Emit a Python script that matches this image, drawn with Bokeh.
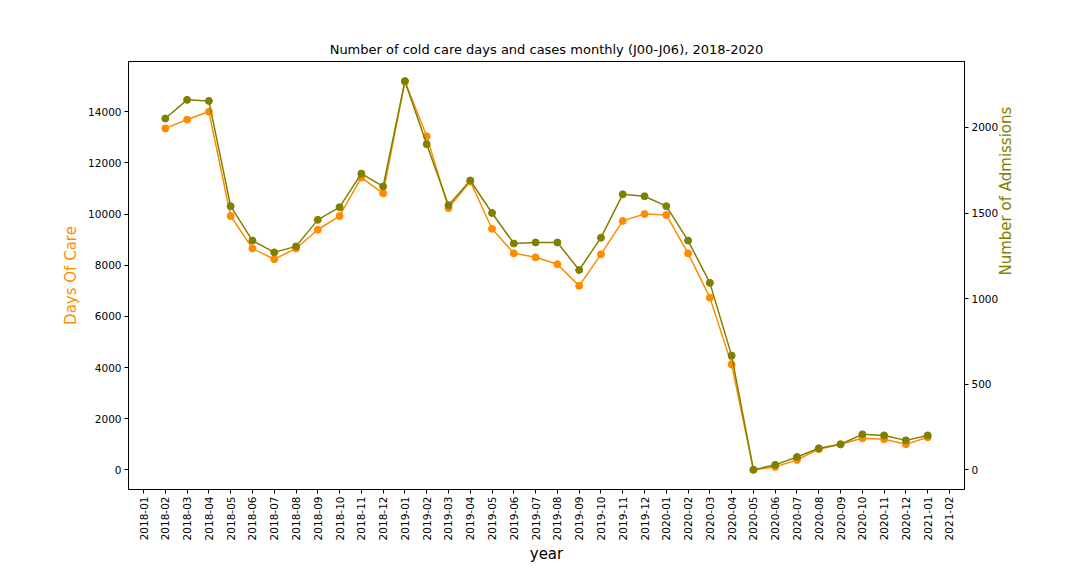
from bokeh.plotting import figure
from bokeh.models import Range1d, LinearAxis, FixedTicker
from bokeh.embed import file_html
from bokeh.resources import INLINE

months = [f"{y}-{m:02d}" for y in (2018, 2019, 2020, 2021) for m in range(1, 13)][:38]

days_of_care = [13346, 13692, 14000, 9923, 8654, 8231, 8654, 9385, 9923, 11423, 10808,
                15192, 13038, 10231, 11269, 9423, 8462, 8308, 8038, 7192, 8423, 9731, 10000,
                9962, 8462, 6731, 4115, 0, 115, 385, 808, 1000, 1231, 1192, 1000, 1269]
admissions = [2052, 2161, 2155, 1540, 1339, 1270, 1305, 1460, 1534, 1730, 1655,
              2270, 1902, 1546, 1690, 1500, 1322, 1328, 1328, 1167, 1356, 1609, 1598,
              1540, 1339, 1092, 667, 0, 29, 75, 126, 149, 207, 201, 172, 201]

xs = list(range(1, 1 + len(days_of_care)))

p = figure(width=1064, height=566, output_backend="svg", toolbar_location=None,
           x_range=Range1d(-0.69, 37.69), y_range=Range1d(-769, 15962),
           title="Number of cold care days and cases monthly (J00-J06), 2018-2020",
           min_border_left=128, min_border_right=100, min_border_top=61, min_border_bottom=64)
p.title.align = "center"
p.title.text_font_style = "normal"
p.title.text_font_size = "13px"
p.title.text_font = "DejaVu Sans"
p.title.text_color = "black"
p.xgrid.visible = False
p.ygrid.visible = False
p.outline_line_color = "black"

p.extra_y_ranges = {"adm": Range1d(-115, 2385)}

p.line(xs, days_of_care, color="darkorange", line_width=1.5)
p.scatter(xs, days_of_care, color="darkorange", size=7)
p.line(xs, admissions, color="olive", line_width=1.5, y_range_name="adm")
p.scatter(xs, admissions, color="olive", size=7, y_range_name="adm")

p.xaxis.ticker = FixedTicker(ticks=list(range(len(months))))
p.xaxis.major_label_overrides = {i: m for i, m in enumerate(months)}
p.xaxis.major_label_orientation = 1.5708
p.xaxis.axis_label = "year"
p.xaxis.axis_label_text_font_style = "normal"
p.xaxis.axis_label_text_font_size = "15px"
p.xaxis.axis_label_text_color = "black"
p.xaxis.axis_label_standoff = 2

p.yaxis.ticker = FixedTicker(ticks=list(range(0, 16000, 2000)))
p.yaxis.axis_label = "Days Of Care"
p.yaxis.axis_label_text_color = "darkorange"
p.yaxis.axis_label_text_font_style = "normal"
p.yaxis.axis_label_text_font_size = "15px"

right = LinearAxis(y_range_name="adm", ticker=FixedTicker(ticks=[0, 500, 1000, 1500, 2000]),
                   axis_label="Number of Admissions")
right.axis_label_text_color = "olive"
right.axis_label_text_font_style = "normal"
right.axis_label_text_font_size = "15px"
right.axis_label_orientation = 1.5708
p.add_layout(right, "right")

for ax in p.xaxis + p.yaxis + [right]:
    ax.major_label_text_font = "DejaVu Sans"
    ax.major_label_text_font_size = "10.5px"
    ax.major_label_text_color = "black"
    ax.major_label_standoff = 3
    ax.axis_label_text_font = "DejaVu Sans"
    ax.minor_tick_line_color = None
    ax.major_tick_out = 4
    ax.major_tick_in = 0

open("out.html", "w").write(file_html(p, INLINE))
